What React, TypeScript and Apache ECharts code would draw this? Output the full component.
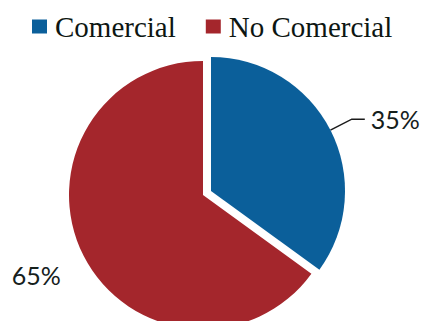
import React, { useEffect, useRef } from "react";
import * as echarts from "echarts";

const categories = ["Comercial", "No Comercial"];
const values = [35, 65];
const colors = ["#0b5f9a", "#a4262c"];

export default function App() {
  const ref = useRef<HTMLDivElement>(null);
  useEffect(() => {
    if (!ref.current) return;
    const chart = echarts.init(ref.current, null, { renderer: "svg" });
    chart.setOption({
      animation: false,
      backgroundColor: "#ffffff",
      legend: {
        data: categories,
        top: 7,
        left: 27,
        icon: "rect",
        itemWidth: 15,
        itemHeight: 14,
        itemGap: 30,
        selectedMode: false,
        textStyle: {
          fontFamily: "Liberation Serif",
          fontSize: 29,
          color: "#0d1612",
          padding: [0, 0, 0, 3],
        },
      },
      series: [
        {
          type: "pie",
          center: [203, 195],
          radius: 134,
          startAngle: 90,
          clockwise: true,
          selectedMode: "single",
          selectedOffset: 9,
          emphasis: { disabled: true },
          label: {
            show: true,
            position: "outside",
            formatter: "{d}%",
            fontFamily: "Lato",
            fontSize: 25,
            color: "#15201c",
            distanceToLabelLine: 6,
          },
          labelLine: {
            show: true,
            length: 24,
            length2: 13,
            smooth: false,
            lineStyle: { color: "#1a1a1a", width: 1.5 },
          },
          labelLayout: (params: any) =>
            params.dataIndex === 1 ? { dx: -8, dy: 15 } : {},
          data: categories.map((name, i) => ({
            name,
            value: values[i],
            selected: i === 0,
            itemStyle: { color: colors[i] },
            select: { itemStyle: { color: colors[i] } },
            labelLine:
              i === 1 ? { show: false, length: 10, length2: 0 } : undefined,
          })),
        },
      ],
    });
    return () => chart.dispose();
  }, []);
  return (
    <div
      ref={ref}
      style={{ position: "fixed", left: 0, top: 0, width: 423, height: 321 }}
    />
  );
}
